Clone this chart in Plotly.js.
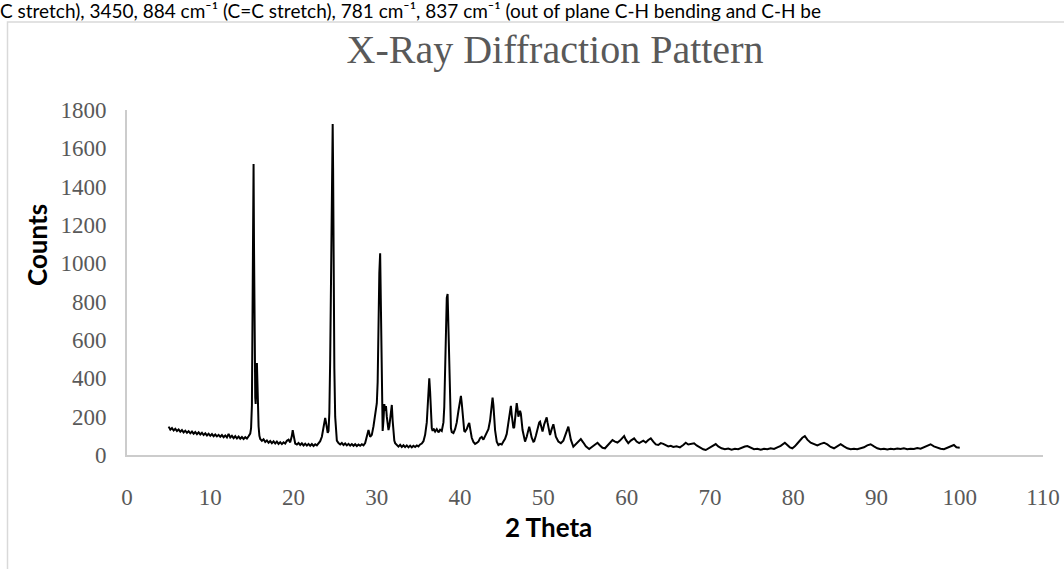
<!DOCTYPE html>
<html>
<head>
<meta charset="utf-8">
<script src="https://cdn.plot.ly/plotly-3.0.1.min.js"></script>
<style>html,body{margin:0;padding:0;background:#fff;}#chart{width:1064px;height:569px;}</style>
</head>
<body>
<div id="chart"></div>
<script>
// 2 Theta (degrees) and Counts
var twoTheta = [
5.0,5.2,5.4,5.6,5.8,6.0,6.2,6.4,6.6,6.8,7.0,7.2,7.4,7.6,7.8,8.0,8.2,8.4,8.6,8.8,9.0,9.2,9.4,9.6,9.8,
10.0,10.2,10.4,10.6,10.8,11.0,11.2,11.4,11.6,11.8,12.0,12.2,12.4,12.6,12.8,13.0,13.2,13.4,13.6,13.8,14.0,14.2,14.4,14.6,14.8,
14.9,15.0,15.1,15.15,15.2,15.25,15.3,15.4,15.45,15.5,15.6,15.65,15.7,15.8,15.9,16.0,16.2,16.4,16.6,16.8,17.0,17.2,17.4,17.6,17.8,
18.0,18.2,18.4,18.6,18.8,19.0,19.2,19.4,19.6,19.8,19.9,20.0,20.1,20.2,20.4,20.6,20.8,21.0,21.2,21.4,21.6,21.8,22.0,22.2,22.4,22.6,22.8,
23.0,23.2,23.4,23.6,23.8,23.9,24.0,24.1,24.2,24.3,24.4,24.5,24.6,24.7,24.75,24.8,24.9,25.0,25.1,25.2,25.4,25.6,25.8,26.0,26.2,26.4,26.6,26.8,
27.0,27.2,27.4,27.6,27.8,28.0,28.2,28.4,28.6,28.8,29.0,29.2,29.4,29.6,29.8,29.9,30.0,30.1,30.2,30.3,30.4,30.45,30.5,30.6,30.7,30.8,30.9,
31.0,31.1,31.2,31.3,31.4,31.5,31.6,31.7,31.8,31.9,32.0,32.1,32.2,32.4,32.6,32.8,33.0,33.2,33.4,33.6,33.8,34.0,34.2,34.4,34.6,34.8,
35.0,35.2,35.4,35.6,35.8,36.0,36.1,36.2,36.3,36.4,36.5,36.6,36.7,36.8,37.0,37.2,37.4,37.6,37.8,37.9,38.0,38.1,38.2,38.3,38.4,38.5,38.6,38.7,38.8,38.9,
39.0,39.2,39.4,39.6,39.8,40.0,40.1,40.2,40.4,40.5,40.6,40.8,41.0,41.1,41.2,41.4,41.6,41.8,42.0,42.2,42.4,42.6,42.8,43.0,43.2,43.4,43.6,43.8,43.9,
44.0,44.2,44.4,44.6,44.8,45.0,45.2,45.4,45.6,45.8,46.0,46.1,46.2,46.4,46.5,46.6,46.8,46.9,47.0,47.2,47.3,47.5,47.7,47.8,48.0,48.2,48.3,48.4,48.6,48.8,48.9,
49.1,49.3,49.5,49.6,49.7,49.9,50.1,50.3,50.4,50.5,50.7,50.8,51.0,51.2,51.3,51.5,51.8,52.1,52.4,52.7,52.9,53.0,53.1,53.3,53.6,53.9,
54.2,54.5,54.8,55.1,55.5,55.8,56.1,56.5,56.8,57.1,57.4,57.7,58.0,58.3,58.6,58.9,59.2,59.5,59.7,59.9,60.2,60.5,60.9,61.2,61.5,62.0,62.3,62.6,62.9,
63.2,63.5,63.8,64.1,64.4,64.7,65.0,65.3,65.6,66.0,66.4,66.8,67.1,67.4,67.8,68.1,68.4,68.8,69.2,69.5,69.9,70.3,70.7,71.0,71.4,71.8,
72.2,72.6,73.0,73.4,73.8,74.2,74.5,74.9,75.3,75.7,76.1,76.5,76.9,77.3,77.7,78.1,78.5,79.0,79.3,79.6,79.9,80.2,80.5,80.8,81.1,81.4,81.7,
82.1,82.5,82.9,83.3,83.7,84.1,84.5,84.9,85.3,85.7,86.1,86.5,86.9,87.3,87.7,88.1,88.5,88.9,89.3,89.7,90.1,90.5,90.9,91.3,91.7,
92.1,92.5,92.9,93.3,93.7,94.1,94.5,94.9,95.3,95.7,96.1,96.5,96.9,97.3,97.7,98.1,98.5,98.9,99.3,99.6,100.0
];
var counts = [
148,132,141,128,137,125,133,121,130,118,127,116,124,113,122,111,120,109,118,107,116,104,113,102,111,
100,109,98,107,97,105,95,104,93,102,92,110,91,100,88,98,86,96,85,94,84,93,86,98,112,
140,260,900,1300,1518,1100,600,300,266,330,480,400,240,150,100,84,74,82,68,76,64,73,62,71,60,
70,58,67,57,66,60,74,80,66,100,130,105,72,60,55,63,52,61,50,59,49,58,48,57,47,56,50,
60,72,95,150,193,170,130,115,125,220,500,1000,1500,1727,1500,1000,450,200,110,75,62,55,63,52,60,50,58,49,
57,48,56,47,55,48,56,50,62,90,130,95,105,150,220,245,270,380,700,950,1053,900,600,250,125,180,266,
230,255,200,150,130,150,200,255,261,180,110,75,62,52,44,53,42,51,41,50,40,49,40,48,42,50,
45,55,60,72,105,170,260,360,400,330,200,140,125,138,122,135,118,132,125,150,170,250,450,700,820,840,650,350,180,140,
120,115,135,170,230,300,308,270,170,125,122,135,160,167,140,90,68,58,63,70,88,94,80,100,115,135,180,280,299,
260,130,70,52,58,55,70,85,110,160,230,256,210,140,145,200,271,240,200,231,215,130,80,70,95,135,148,130,90,70,72,
100,140,170,174,150,122,160,190,196,170,115,104,135,160,140,95,70,62,75,110,140,148,125,80,43,55,
70,83,65,45,31,40,52,64,50,38,35,48,62,78,70,65,75,92,99,80,62,75,87,70,62,75,65,78,87,
70,55,52,62,58,50,45,48,42,46,40,52,64,55,58,61,50,38,30,26,35,48,57,45,35,30,
34,28,33,30,38,44,47,38,30,33,28,32,30,35,32,40,48,64,50,40,35,45,60,78,90,99,80,
64,55,50,58,64,55,42,35,45,57,45,35,30,33,30,35,40,50,56,45,35,30,33,29,32,
30,34,31,35,30,33,31,36,33,40,50,56,45,38,33,30,36,45,52,40,38
];
var xTicks = [0,10,20,30,40,50,60,70,80,90,100,110];
var yTicks = [0,200,400,600,800,1000,1200,1400,1600,1800];
var chartTitle = "X-Ray Diffraction Pattern";
var xTitle = "2 Theta";
var yTitle = "Counts";
var topText = "C stretch), 3450, 884 cm\u207B\u00B9 (C=C stretch), 781 cm\u207B\u00B9, 837 cm\u207B\u00B9 (out of plane C-H bending and C-H be";

// plot area in pixels: left 127, right 1043, top 110, bottom 455
var L = 127, R = 1043, T = 110, B = 455;
var W = R - L, H = B - T;
function px(x){ return (x - L) / W; }
function py(y){ return (B - y) / H; }

var trace = {
  x: twoTheta, y: counts, type: 'scatter', mode: 'lines',
  line: {color: '#000000', width: 2},
  hoverinfo: 'skip'
};

var tickFont = {family: 'Liberation Serif, Times New Roman, serif', size: 23, color: '#595959'};

var layout = {
  width: 1064, height: 569,
  margin: {l: L, r: 1064 - R, t: T, b: 569 - B, pad: 0},
  paper_bgcolor: '#ffffff', plot_bgcolor: '#ffffff',
  showlegend: false,
  title: {
    text: chartTitle,
    font: {family: 'Liberation Serif, Times New Roman, serif', size: 40, color: '#595959'},
    x: 555 / 1064, xref: 'container', xanchor: 'center',
    y: 1 - 49 / 569, yref: 'container', yanchor: 'middle'
  },
  xaxis: {
    range: [0, 110], tickvals: xTicks, ticktext: xTicks.map(String),
    showgrid: false, zeroline: false,
    showline: true, linecolor: '#cccccc', linewidth: 2,
    ticks: '', tickfont: tickFont, ticklabelstandoff: 20,
    fixedrange: true
  },
  yaxis: {
    range: [0, 1800], tickvals: yTicks, ticktext: yTicks.map(String),
    showgrid: false, zeroline: false,
    showline: true, linecolor: '#cccccc', linewidth: 2,
    ticks: '', tickfont: tickFont, ticklabelstandoff: 14,
    fixedrange: true
  },
  annotations: [
    {text: '<b>' + xTitle + '</b>', xref: 'paper', yref: 'paper',
     x: px(548), y: py(527), xanchor: 'center', yanchor: 'middle', showarrow: false,
     font: {family: 'Lato, Carlito, sans-serif', size: 26, color: '#000000'}},
    {text: '<b>' + yTitle + '</b>', xref: 'paper', yref: 'paper',
     x: px(37), y: py(245), xanchor: 'center', yanchor: 'middle', showarrow: false, textangle: -90,
     font: {family: 'Lato, Carlito, sans-serif', size: 26, color: '#000000'}},
    {text: topText, xref: 'paper', yref: 'paper',
     x: px(-1), y: py(-2), xanchor: 'left', yanchor: 'top', showarrow: false, borderpad: 0,
     font: {family: 'Lato, Carlito, sans-serif', size: 19, color: '#000000'}}
  ],
  shapes: [
    {type: 'rect', xref: 'paper', yref: 'paper',
     x0: px(7.5), x1: px(1080), y0: py(600), y1: py(22),
     line: {color: '#d9d9d9', width: 1.5}, fillcolor: 'rgba(0,0,0,0)', layer: 'below'}
  ]
};

Plotly.newPlot('chart', [trace], layout, {staticPlot: true, displayModeBar: false});
</script>
</body>
</html>
